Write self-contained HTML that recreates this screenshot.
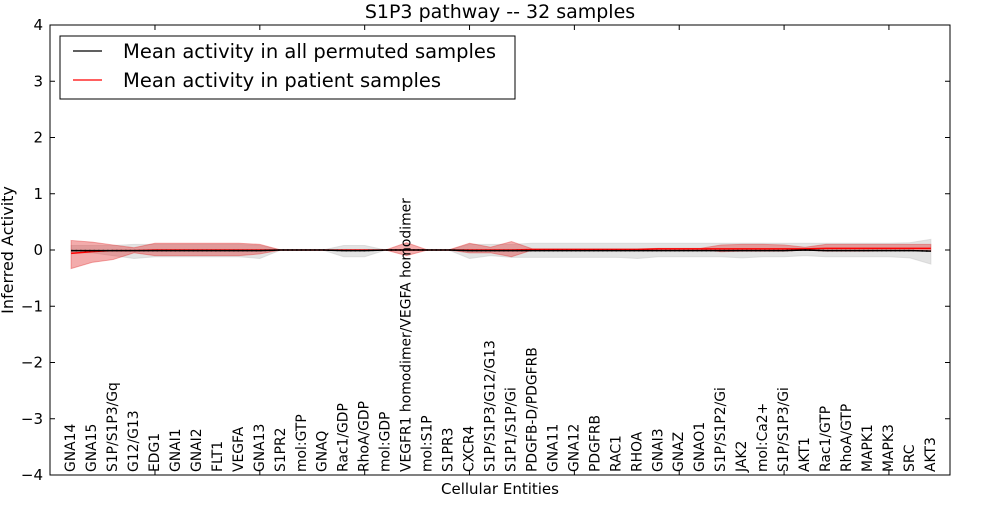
<!DOCTYPE html>
<html><head><meta charset="utf-8"><style>
body{margin:0;background:#fff;}
svg text{font-family:"DejaVu Sans","Liberation Sans",sans-serif;fill:#000;}
</style></head><body>
<svg id="chart" width="1000" height="500" xmlns="http://www.w3.org/2000/svg">
<g id="bands"></g>
<g id="lines"></g>
<g id="axes"></g>
</svg>
<script>
const categories=["GNA14","GNA15","S1P/S1P3/Gq","G12/G13","EDG1","GNAI1","GNAI2","FLT1","VEGFA","GNA13","S1PR2","mol:GTP","GNAQ","Rac1/GDP","RhoA/GDP","mol:GDP","VEGFR1 homodimer/VEGFA homodimer","mol:S1P","S1PR3","CXCR4","S1P/S1P3/G12/G13","S1P1/S1P/Gi","PDGFB-D/PDGFRB","GNA11","GNA12","PDGFRB","RAC1","RHOA","GNAI3","GNAZ","GNAO1","S1P/S1P2/Gi","JAK2","mol:Ca2+","S1P/S1P3/Gi","AKT1","Rac1/GTP","RhoA/GTP","MAPK1","MAPK3","SRC","AKT3"];
const patientMean=[-0.06,-0.03,-0.01,-0.01,0,0,0,0,0,0,0,0,0,0,0,0,0,0,0,0,0,0,0.01,0.01,0.01,0.01,0.01,0.01,0.02,0.02,0.02,0.02,0.02,0.02,0.02,0.02,0.03,0.03,0.03,0.03,0.03,0.03];
const patientUpper=[0.17,0.14,0.09,0.04,0.12,0.12,0.12,0.12,0.12,0.1,0,0,0,0,0,0,0.13,0,0,0.12,0.05,0.15,0.02,0.02,0.02,0.02,0.02,0.02,0.03,0.03,0.03,0.09,0.1,0.1,0.09,0.05,0.1,0.1,0.1,0.1,0.1,0.1];
const patientLower=[-0.33,-0.22,-0.17,-0.05,-0.1,-0.1,-0.1,-0.1,-0.1,-0.07,0,0,0,0,0,0,-0.1,0,0,-0.05,-0.05,-0.12,0,0,0,0,0,0,0.01,0.01,0.01,-0.03,-0.02,-0.02,-0.02,0,-0.02,-0.02,-0.02,-0.01,-0.01,-0.02];
const permMean=[-0.01,-0.01,-0.01,-0.01,-0.01,-0.01,-0.01,-0.01,-0.01,-0.01,0,0,0,-0.01,-0.01,0,0,0,0,-0.01,-0.01,-0.01,-0.01,-0.01,-0.01,-0.01,-0.01,-0.01,-0.01,-0.01,-0.01,-0.01,-0.01,-0.01,-0.01,0,-0.01,-0.01,-0.01,-0.01,-0.01,-0.02];
const permUpper=[0.08,0.08,0.08,0.1,0.1,0.1,0.1,0.1,0.1,0.08,0,0,0,0.08,0.08,0,0,0,0,0.1,0.1,0.1,0.12,0.12,0.12,0.12,0.12,0.12,0.12,0.12,0.12,0.12,0.12,0.12,0.12,0.12,0.12,0.12,0.12,0.12,0.13,0.19];
const permLower=[-0.05,-0.05,-0.1,-0.15,-0.12,-0.12,-0.12,-0.12,-0.12,-0.15,0,0,0,-0.12,-0.12,0,0,0,0,-0.15,-0.1,-0.13,-0.13,-0.13,-0.13,-0.13,-0.13,-0.15,-0.12,-0.12,-0.12,-0.12,-0.14,-0.12,-0.12,-0.1,-0.12,-0.12,-0.12,-0.12,-0.14,-0.25];
const yTicks=[4,3,2,1,0,-1,-2,-3,-4];
const xTickIdx=[4,9,14,19,24,29,34,39];

const L=50,R=950,T=25,B=475;
const xs=i=>71.1+20.97*i;
const ys=v=>250-v*56.25;
const NS="http://www.w3.org/2000/svg";
function mk(tag,attrs,parent,txt){const e=document.createElementNS(NS,tag);for(const k in attrs)e.setAttribute(k,attrs[k]);if(txt!=null)e.textContent=txt;parent.appendChild(e);return e;}
const bands=document.getElementById('bands'),lines=document.getElementById('lines'),axes=document.getElementById('axes');
function band(up,lo,fill,op,name){
  let d="M"+up.map((v,i)=>xs(i)+","+ys(v)).join("L");
  for(let i=lo.length-1;i>=0;i--)d+="L"+xs(i)+","+ys(lo[i]);
  const p=mk('path',{d:d+"Z",fill:fill,'fill-opacity':op,stroke:fill,'stroke-opacity':op,'stroke-width':1},bands);
  
  
}
band(permUpper,permLower,'#c8c8c8',0.5,'permuted-range-band');
band(patientUpper,patientLower,'#e03030',0.4,'patient-range-band');
function line(vals,col,name){
  const p=mk('polyline',{points:vals.map((v,i)=>xs(i)+","+ys(v)).join(" "),fill:'none',stroke:col,'stroke-width':1.5},lines);
  
  
}
line(patientMean,'#ff0000','patient-mean-line');
line(permMean,'#000000','permuted-mean-line');
const dots=mk('polyline',{points:permMean.map((v,i)=>xs(i)+","+ys(v)).join(" "),fill:'none',stroke:'#000','stroke-width':1.5,'stroke-dasharray':'1.5 3'},lines);



const frame=mk('rect',{x:L,y:T,width:R-L,height:B-T,fill:'none',stroke:'#000','stroke-width':1},axes);


yTicks.forEach(v=>{
  const y=ys(v);
  mk('line',{x1:L,x2:L+5,y1:y,y2:y,stroke:'#000'},axes);
  mk('line',{x1:R,x2:R-5,y1:y,y2:y,stroke:'#000'},axes);
  const t=mk('text',{x:L-7,y:y+5,'text-anchor':'end','font-size':15},axes,(v<0?"\u2212":"")+Math.abs(v));
  
  
});
xTickIdx.forEach(i=>{
  const x=xs(i);
  mk('line',{x1:x,x2:x,y1:B,y2:B-5,stroke:'#000'},axes);
  mk('line',{x1:x,x2:x,y1:T,y2:T+5,stroke:'#000'},axes);
});
categories.forEach((c,i)=>{
  const x=xs(i)+4;
  const t=mk('text',{x:0,y:0,'font-size':13.9,transform:`translate(${x},472) rotate(-90)`},axes,c);
  
  
});
let t=mk('text',{x:500,y:18,'text-anchor':'middle','font-size':19},axes,'S1P3 pathway -- 32 samples');

t=mk('text',{x:500,y:494,'text-anchor':'middle','font-size':15},axes,'Cellular Entities');

t=mk('text',{x:0,y:0,'text-anchor':'middle','font-size':16,transform:'translate(13,250) rotate(-90)'},axes,'Inferred Activity');


const lg=mk('g',{},axes);


mk('rect',{x:60,y:36,width:455,height:63,fill:'#fff',stroke:'#000'},lg);
mk('line',{x1:73,x2:102,y1:51,y2:51,stroke:'#000','stroke-width':1.3},lg);
mk('line',{x1:73,x2:102,y1:80,y2:80,stroke:'#ff0000','stroke-width':1.3},lg);
t=mk('text',{x:123,y:58,'font-size':19.5},lg,'Mean activity in all permuted samples');

t=mk('text',{x:123,y:87,'font-size':19.5},lg,'Mean activity in patient samples');

</script>
</body></html>
